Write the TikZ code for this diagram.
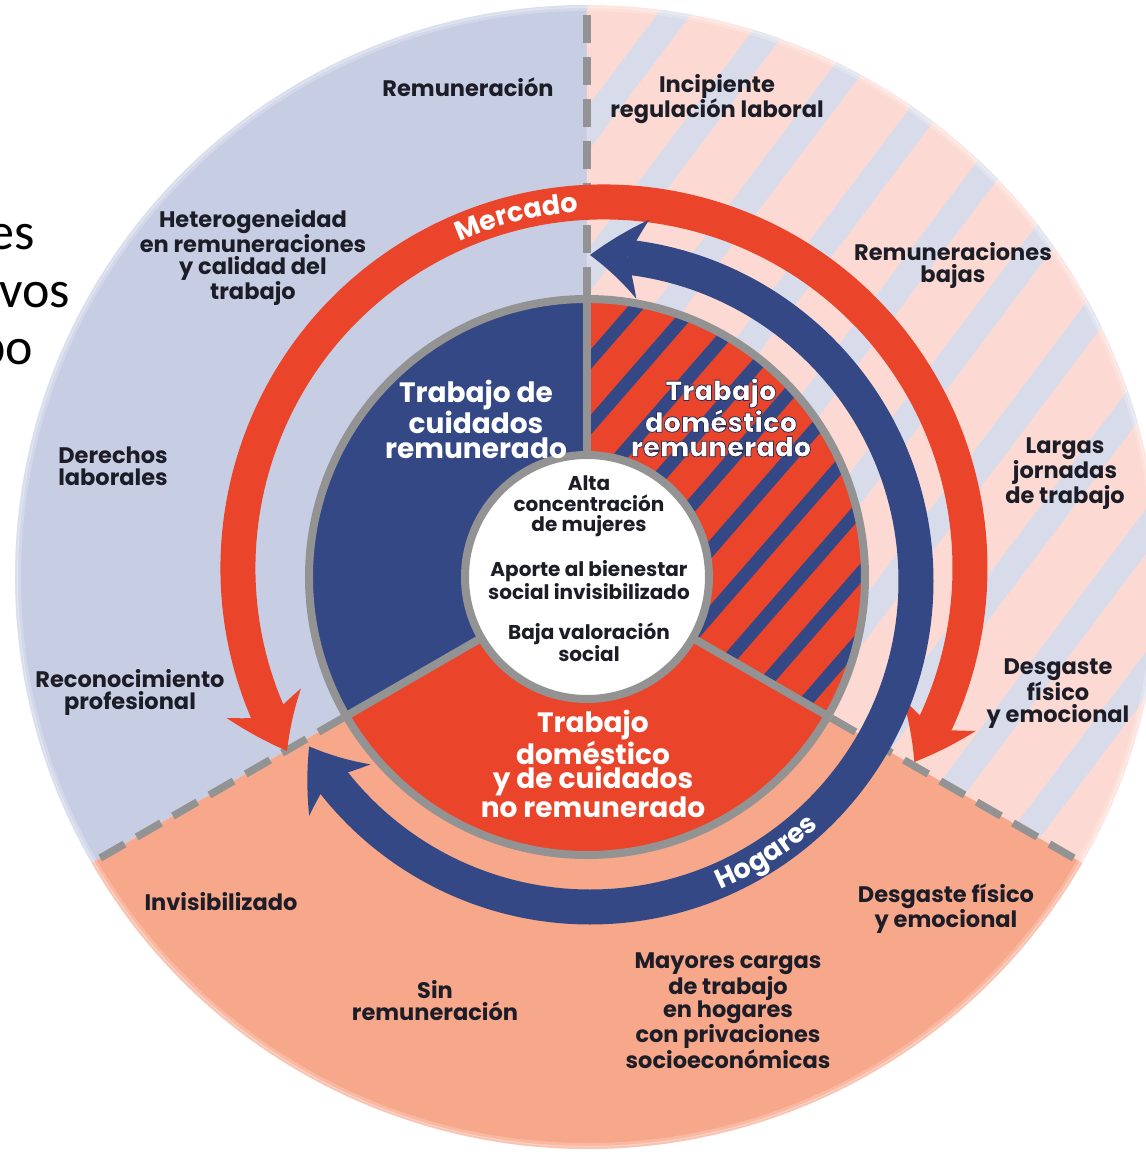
\documentclass[tikz,border=0pt]{standalone}
\usepackage{fontspec}
\setmainfont{Poppins}
\newfontfamily\fragfont{Carlito}
\newfontfamily\ttloutl{Poppins ExtraBold}[FakeBold=3]
\usetikzlibrary{arrows.meta,bending,decorations.text}
\definecolor{navyc}{HTML}{354886}
\definecolor{redc}{HTML}{EA452A}
\definecolor{leftc}{HTML}{C7CEE4}
\definecolor{pinkc}{HTML}{FCDAD3}
\definecolor{stripec}{HTML}{D8DCEA}
\definecolor{salmonc}{HTML}{F7A78A}
\definecolor{grayc}{HTML}{939393}
\definecolor{labtext}{HTML}{1D1D28}
\begin{document}
\begin{tikzpicture}[x=1pt,y=1pt,
  lab/.style={font=\bfseries\fontsize{22.5}{22}\selectfont, text=labtext, align=center, inner sep=0pt},
  ttl/.style={font=\bfseries\fontsize{28}{24.5}\selectfont, text=white, align=center, inner sep=0pt},
  ctr/.style={font=\bfseries\fontsize{20}{20.5}\selectfont, text=labtext, align=center, inner sep=0pt},
  frag/.style={font=\fragfont\fontsize{52}{58}\selectfont, text=black, inner sep=0pt, anchor=base east},
  dashline/.style={draw=grayc, line width=7.5pt, dash pattern=on 28pt off 14pt},
  solidline/.style={draw=grayc, line width=8pt},
  headtip/.style={arrows={Stealth[length=54pt,width=80pt,inset=16pt,line width=0pt,bend]-Stealth[length=54pt,width=80pt,inset=16pt,line width=0pt,bend]}},
  redarc/.style={draw=redc, line width=35pt, headtip},
  bluearc/.style={draw=navyc, line width=35pt, headtip},
]
\useasboundingbox (-587,-575) rectangle (559,577);
\begin{scope}
\clip (-587,-575) rectangle (559,577);
% outer sectors
\fill[leftc] (0,0) -- (90:572) arc (90:210:572) -- cycle;
\fill[pinkc] (0,0) -- (-30:572) arc (-30:90:572) -- cycle;
\fill[salmonc] (0,0) -- (210:572) arc (210:330:572) -- cycle;
\begin{scope}
  \clip (0,0) -- (-30:572) arc (-30:90:572) -- cycle;
  \begin{scope}[rotate=53]
    \foreach \k in {-10,...,10} \fill[stripec] (-700,{11+86*\k-13.5}) rectangle (700,{11+86*\k+13.5});
  \end{scope}
\end{scope}
% soft outer edge
\draw[white, opacity=0.35, line width=6pt] (0,0) circle (572);
\draw[white, opacity=0.2, line width=4pt] (0,0) circle (568);
% dashed boundaries
\foreach \a in {90,210,330} \draw[dashline] (\a:282) -- (\a:572);
% arcs
\draw[redarc] ([shift={(17,9)}]210:366) arc (210:-32:366);
\draw[bluearc] ([shift={(3,-4)}]90:326) arc (90:-149.5:326);
\path[decorate, decoration={text along path, text align=center, text color=white,
  text={|\bfseries\fontsize{27}{27}\selectfont|Mercado}}] ([shift={(17,9)}]125:357) arc (125:83:357);
\path[decorate, decoration={text along path, text align=center, text color=white,
  text={|\bfseries\fontsize{27}{27}\selectfont|Hogares}}] ([shift={(3,-4)}]-77:335) arc (-77:-37:335);
% middle disk
\fill[navyc] (0,0) -- (90:278) arc (90:210:278) -- cycle;
\fill[redc] (0,0) -- (210:278) arc (210:330:278) -- cycle;
\fill[redc] (0,0) -- (-30:278) arc (-30:90:278) -- cycle;
\begin{scope}
  \clip (0,0) -- (-30:278) arc (-30:90:278) -- cycle;
  \begin{scope}[rotate=49]
    \foreach \k in {-8,...,8} \fill[navyc] (-400,{11+43*\k-6.5}) rectangle (400,{11+43*\k+6.5});
  \end{scope}
\end{scope}
\draw[grayc, line width=8pt] (0,0) circle (278);
\foreach \a in {90,210,330} \draw[solidline] (\a:122) -- (\a:278);
\fill[white] (0,0) circle (122);
\draw[grayc, line width=8pt] (0,0) circle (122);
% outer labels
\node[lab] (l1) at (-119,490) {Remuneración};
\node[lab] (l2) at (130,478) {Incipiente\\regulación laboral};
\node[lab] (l3) at (-334,319.5) {Heterogeneidad\\en remuneraciones\\y calidad del\\trabajo};
\node[lab] (l4) at (366,312) {Remuneraciones\\bajas};
\node[lab] (l5) at (-474,111) {Derechos\\laborales};
\node[lab] (l6) at (478,103.5) {Largas\\jornadas\\de trabajo};
\node[lab] (l7) at (-457,-115) {Reconocimiento\\profesional};
\node[lab] (l8) at (471,-117) {Desgaste\\físico\\y emocional};
\node[lab] (l9) at (-366,-325) {Invisibilizado};
\node[lab] (l10) at (359,-332) {Desgaste físico\\y emocional};
\node[lab] (l11) at (-152,-424) {Sin\\remuneración};
\node[lab] (l12) at (141,-434) {Mayores cargas\\de trabajo\\en hogares\\con privaciones\\socioeconómicas};
% inner titles
\node[ttl] (t1) at (-111,157.5) {Trabajo de\\cuidados\\remunerado};
\node[ttl, font=\ttloutl\fontsize{27.5}{24.5}\selectfont] (t2) at (134,159.5)
  {\special{pdf:literal 0.17 0.18 0.34 RG}Trabajo\\\special{pdf:literal 0.17 0.18 0.34 RG}doméstico\\\special{pdf:literal 0.17 0.18 0.34 RG}remunerado};
\node[ttl] (t3) at (6,-187) {Trabajo\\doméstico\\y de cuidados\\no remunerado};
% center
\node[ctr] (c1) at (2,70.5) {Alta\\concentración\\de mujeres};
\node[ctr] (c2) at (2,-3) {Aporte al bienestar\\social invisibilizado};
\node[ctr] (c3) at (2,-65) {Baja valoración\\social};
% cropped fragments of neighbouring text
\node[frag] (f1) at (-552,327) {es};
\node[frag] (f2) at (-517,269) {vos};
\node[frag] (f3) at (-554,212) {po};
\end{scope}
\end{tikzpicture}
\end{document}
